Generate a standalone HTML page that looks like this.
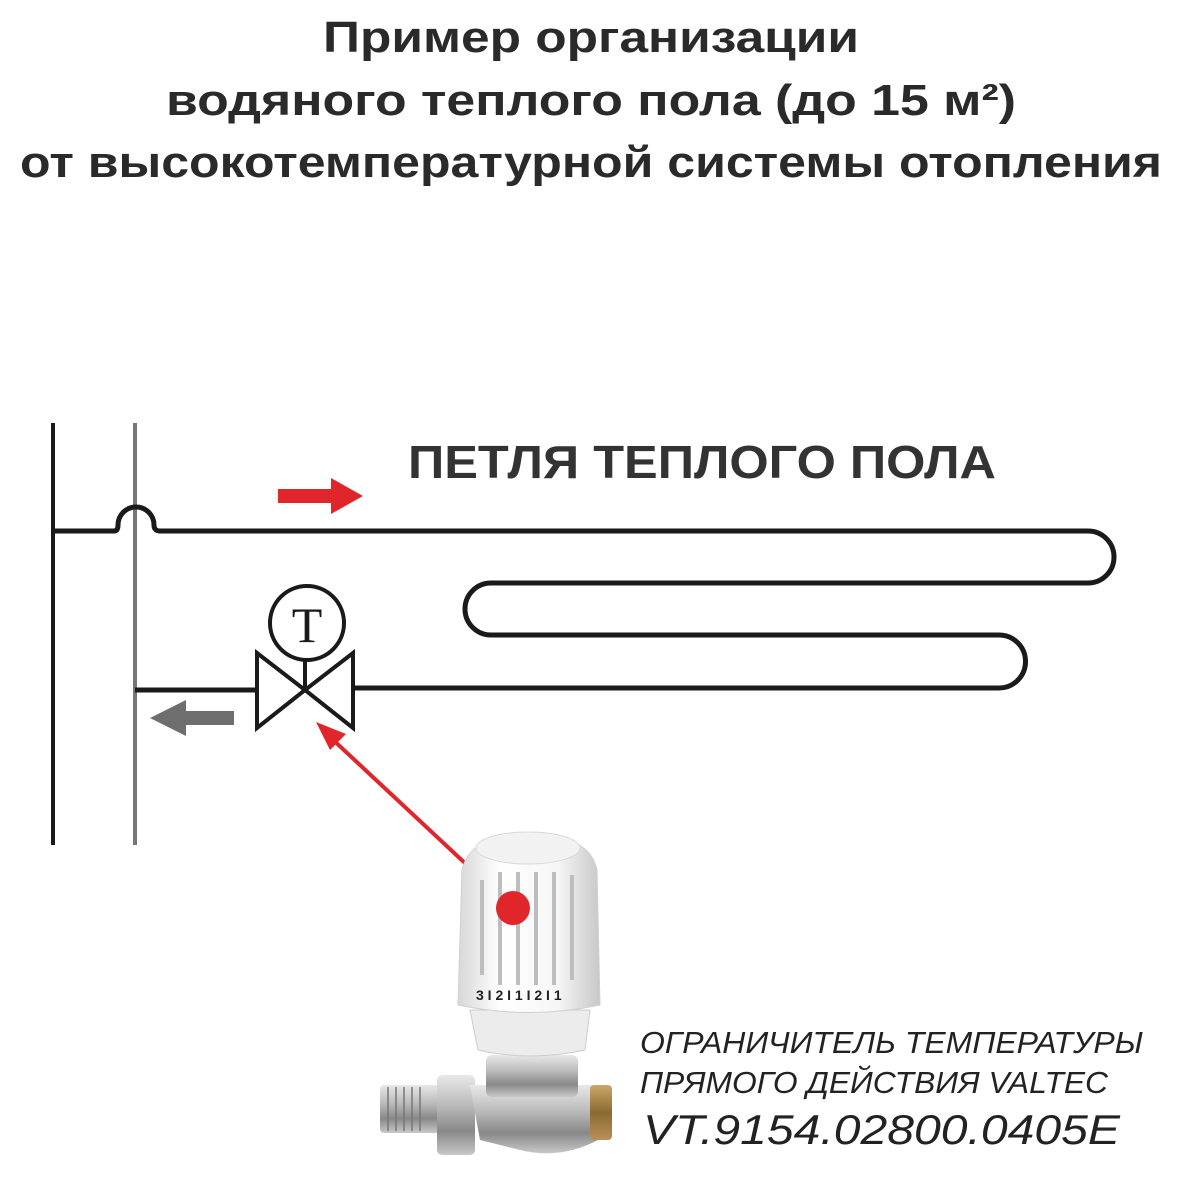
<!DOCTYPE html>
<html><head><meta charset="utf-8"><style>
html,body{margin:0;padding:0;background:#fff}
svg{display:block}
</style></head><body>
<svg width="1182" height="1182" viewBox="0 0 1182 1182" xmlns="http://www.w3.org/2000/svg">
<defs>
<linearGradient id="head" x1="0" x2="1">
<stop offset="0" stop-color="#d8d8d8"/><stop offset="0.3" stop-color="#fff"/><stop offset="0.7" stop-color="#f6f6f6"/><stop offset="1" stop-color="#c8c8c8"/>
</linearGradient>
<linearGradient id="nickel" x1="0" y1="0" x2="0" y2="1">
<stop offset="0" stop-color="#e8e8e8"/><stop offset="0.4" stop-color="#b8b8b8"/><stop offset="0.7" stop-color="#888"/><stop offset="1" stop-color="#c8c8c8"/>
</linearGradient>
<linearGradient id="brass" x1="0" y1="0" x2="0" y2="1">
<stop offset="0" stop-color="#c9a868"/><stop offset="0.5" stop-color="#8a6a30"/><stop offset="1" stop-color="#b89058"/>
</linearGradient>
</defs>
<g font-family="Liberation Sans, DejaVu Sans, sans-serif" font-weight="bold" fill="#2a2a2a" text-anchor="middle" font-size="44">
<text x="591" y="52" textLength="536" lengthAdjust="spacingAndGlyphs">Пример организации</text>
<text x="591" y="115" textLength="850" lengthAdjust="spacingAndGlyphs">водяного теплого пола (до 15 м²)</text>
<text x="591" y="177" textLength="1142" lengthAdjust="spacingAndGlyphs">от высокотемпературной системы отопления</text>
</g>
<text x="408" y="478" font-family="Liberation Sans, sans-serif" font-weight="bold" font-size="46" fill="#333" textLength="588" lengthAdjust="spacingAndGlyphs">ПЕТЛЯ ТЕПЛОГО ПОЛА</text>
<!-- verticals -->
<line x1="53" y1="423" x2="53" y2="845" stroke="#1a1a1a" stroke-width="4"/>
<line x1="135" y1="423" x2="135" y2="845" stroke="#777" stroke-width="4"/>
<!-- supply with hump + loop -->
<path d="M53 531 H114 Q118 531 118 525 A18 18 0 0 1 154 525 Q154 531 160 531 H1088 A26 26 0 0 1 1088 583 H491 A26 26 0 0 0 491 635 H999 A26 26 0 0 1 999 688 H353" fill="none" stroke="#1a1a1a" stroke-width="5"/>
<line x1="135" y1="690" x2="257" y2="690" stroke="#1a1a1a" stroke-width="5"/>
<!-- valve -->
<path d="M257 653 L305 690 L257 728 Z M353 653 L305 690 L353 728 Z" fill="#fff" stroke="#1a1a1a" stroke-width="4" stroke-linejoin="miter"/>
<line x1="305" y1="660" x2="305" y2="690" stroke="#1a1a1a" stroke-width="4"/>
<circle cx="307" cy="623" r="37" fill="#fff" stroke="#1a1a1a" stroke-width="4"/>
<text x="307" y="642" font-family="Liberation Serif, serif" font-size="50" text-anchor="middle" fill="#1a1a1a">T</text>
<!-- arrows -->
<path d="M278 489 H331 V478 L363 496 L331 514 V503 H278 Z" fill="#e0262b"/>
<path d="M234 711 H186 V700 L150 718 L186 736 V725 H234 Z" fill="#6e6e6e"/>
<line x1="513" y1="908" x2="330" y2="737" stroke="#e0262b" stroke-width="4"/>
<path d="M316 722 L346 734 L330 750 Z" fill="#e0262b"/>
<!-- product image approximation -->
<rect x="380" y="1085" width="65" height="48" rx="4" fill="url(#nickel)"/>
<g stroke="#777" stroke-width="1.5"><line x1="388" y1="1087" x2="388" y2="1131"/><line x1="396" y1="1087" x2="396" y2="1131"/><line x1="404" y1="1087" x2="404" y2="1131"/><line x1="412" y1="1087" x2="412" y2="1131"/><line x1="420" y1="1087" x2="420" y2="1131"/></g>
<rect x="437" y="1075" width="38" height="80" rx="5" fill="url(#nickel)"/>
<path d="M470 1085 H598 V1140 Q560 1160 520 1150 L480 1140 Z" fill="url(#nickel)"/>
<rect x="590" y="1085" width="22" height="55" rx="4" fill="url(#brass)"/>
<rect x="486" y="1055" width="92" height="42" rx="6" fill="url(#nickel)"/>
<path d="M470 1010 H590 L585 1050 Q530 1062 478 1050 Z" fill="#ececec" stroke="#ccc"/>
<path d="M462 870 Q470 835 528 833 Q590 835 597 870 L600 1005 Q530 1020 458 1005 Z" fill="url(#head)" stroke="#d0d0d0"/>
<ellipse cx="528" cy="848" rx="52" ry="16" fill="#f2f2f2" stroke="#d8d8d8"/>
<g stroke="#bdbdbd" stroke-width="4"><line x1="482" y1="880" x2="482" y2="975"/><line x1="500" y1="872" x2="500" y2="985"/><line x1="518" y1="872" x2="518" y2="985"/><line x1="536" y1="872" x2="536" y2="985"/><line x1="554" y1="872" x2="554" y2="985"/><line x1="572" y1="875" x2="572" y2="980"/></g>
<g font-family="Liberation Sans, sans-serif" font-size="14" fill="#222" font-weight="bold"><text x="476" y="1000">3 I 2 I 1 I 2 I 1</text></g>
<circle cx="513" cy="908" r="17" fill="#e0262b"/>
<!-- caption -->
<g font-family="Liberation Sans, sans-serif" font-style="italic" fill="#222">
<text x="640" y="1053" font-size="31" textLength="503" lengthAdjust="spacingAndGlyphs">ОГРАНИЧИТЕЛЬ ТЕМПЕРАТУРЫ</text>
<text x="640" y="1093" font-size="31" textLength="468" lengthAdjust="spacingAndGlyphs">ПРЯМОГО ДЕЙСТВИЯ VALTEC</text>
<text x="643" y="1144" font-size="42" textLength="477" lengthAdjust="spacingAndGlyphs">VT.9154.02800.0405E</text>
</g>
</svg>
</body></html>
